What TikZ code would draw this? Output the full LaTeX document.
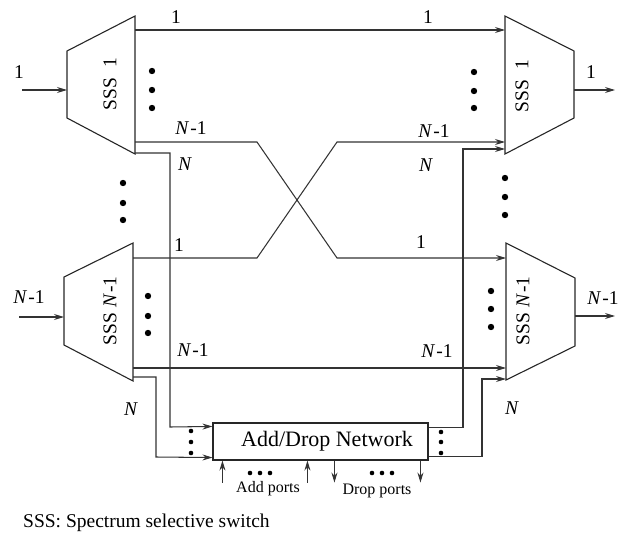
\documentclass[tikz,border=0pt]{standalone}
\usepackage{fontspec}
\setmainfont{Liberation Serif}
\usetikzlibrary{arrows.meta, calc, positioning}

\newcommand{\Nmo}{\textit{N}\kern1pt-1}

\begin{document}
\begin{tikzpicture}[x=1pt, y=-1pt,
		lbl/.style={font=\fontsize{19.5}{21}\selectfont, inner sep=0pt},
		sss/.style={draw=black!85, line width=1.1pt},
		sig/.style={draw=black!80, line width=1.05pt},
		arr/.style={sig, -{Stealth[length=10pt, width=6pt]}},
		ssslbl/.style={lbl, rotate=90},
		adbox/.style={rectangle, draw=black!85, line width=1.1pt, minimum width=215pt,
			minimum height=37pt, inner sep=0pt, font=\fontsize{22}{24}\selectfont},
		portlbl/.style={font=\fontsize{16}{18}\selectfont, inner sep=0pt}
		]
	\useasboundingbox (0,0) rectangle (621,535);

	% the four switches
	\draw[sss] (67,51) -- (135,16) -- (135,154) -- (67,118) -- cycle;
	\node[ssslbl](S1) at (110,84){SSS\enspace 1};
	\draw[sss] (505,16) -- (574,51) -- (574,118) -- (505,154) -- cycle;
	\node[ssslbl](S2) at (522,86){SSS\enspace 1};
	\draw[sss] (64,277) -- (133,243) -- (133,381) -- (64,345) -- cycle;
	\node[ssslbl](S3) at (110,311){SSS \Nmo};
	\draw[sss] (506,243) -- (575,278) -- (575,346) -- (506,380) -- cycle;
	\node[ssslbl](S4) at (523,311){SSS \Nmo};

	% ports
	\coordinate (A1in) at (67,90);   \coordinate (A1src) at (22,90);
	\coordinate (A1o1) at (135,30);  \coordinate (A1oM) at (135,142); \coordinate (A1oN) at (135,153);
	\coordinate (B1i1) at (505,30);  \coordinate (B1iM) at (505,142); \coordinate (B1iN) at (505,149);
	\coordinate (B1out) at (574,90); \coordinate (B1dst) at (615,90);
	\coordinate (A2in) at (64,317);  \coordinate (A2src) at (19,317);
	\coordinate (A2o1) at (133,258); \coordinate (A2oM) at (133,368); \coordinate (A2oN) at (133,377);
	\coordinate (B2i1) at (506,258); \coordinate (B2iM) at (506,368); \coordinate (B2iN) at (506,379);
	\coordinate (B2out) at (575,316); \coordinate (B2dst) at (615,316);

	\node[adbox](ADN) at (320.5,441.5){\hspace*{13pt}Add/Drop Network};

	\draw[arr] (A1src) -- (A1in);
	\draw[arr] (A2src) -- (A2in);
	\draw[arr] (B1out) -- (B1dst);
	\draw[arr] (B2out) -- (B2dst);

	\draw[arr] (A1o1) -- (B1i1);
	\draw[arr] (A2oM) -- (B2iM);
	\draw[arr] (A1oM) -- (257,142) -- (337,258) -- (B2i1);
	\draw[arr] (A2o1) -- (257,258) -- (337,142) -- (B1iM);

	\draw[arr] (A1oN) -| (170,427) -- ($(ADN.north west)+(0,4)$);
	\draw[arr] (A2oN) -| (156,457) -- ($(ADN.south west)+(0,-3)$);
	\draw[arr] ($(ADN.north east)+(0,5)$) -| (463,149) -- (B1iN);
	\draw[arr] ($(ADN.south east)+(0,-4)$) -| (482,379) -- (B2iN);

	% add and drop ports
	\coordinate (ad1) at ($(ADN.south west)+(10,0)$);
	\coordinate (ad2) at ($(ADN.south west)+(95,0)$);
	\coordinate (dr1) at ($(ADN.south west)+(122,0)$);
	\coordinate (dr2) at ($(ADN.south west)+(208,0)$);
	\draw[arr] ($(ad1)+(0,22)$) -- (ad1);
	\draw[arr] ($(ad2)+(0,22)$) -- (ad2);
	\draw[arr] (dr1) -- ($(dr1)+(0,22)$);
	\draw[arr] (dr2) -- ($(dr2)+(0,22)$);
	\node[portlbl](AP) at (268,489){Add ports};
	\node[portlbl](DP) at (377,491){Drop ports};

	% dots
	\foreach \x/\y in {152/71, 152/90, 152/108, 474/72, 474/91, 474/108,
			123/183, 123/203, 123/220, 505/178, 505/197, 505/215,
			148/296, 148/316, 148/333, 491/291, 491/309, 491/327}
		\fill (\x,\y) circle (3.2pt);
	\foreach \x/\y in {191/431, 191/442, 191/453, 441/432, 441/442, 441/453,
			250/473, 260/473, 270/473, 372/473, 382/473, 392/473}
		\fill (\x,\y) circle (2.3pt);

	% labels
	\node[lbl](l1) at (19,72){1};
	\node[lbl](l2) at (176,17){1};
	\node[lbl](l3) at (428,17){1};
	\node[lbl](l4) at (591,72){1};
	\node[lbl](l5) at (191,128){\Nmo};
	\node[lbl](l6) at (185,164){\textit{N}};
	\node[lbl](l7) at (434,131){\Nmo};
	\node[lbl](l8) at (426,165){\textit{N}};
	\node[lbl](l9) at (29,297){\Nmo};
	\node[lbl](l10) at (179,245){1};
	\node[lbl](l11) at (193,350){\Nmo};
	\node[lbl](l12) at (131,409){\textit{N}};
	\node[lbl](l13) at (421,242){1};
	\node[lbl](l14) at (437,351){\Nmo};
	\node[lbl](l15) at (512,408){\textit{N}};
	\node[lbl](l16) at (603,298){\Nmo};

	\node[lbl, anchor=base west](cap) at (23,527){SSS: Spectrum selective switch};
\end{tikzpicture}
\end{document}
